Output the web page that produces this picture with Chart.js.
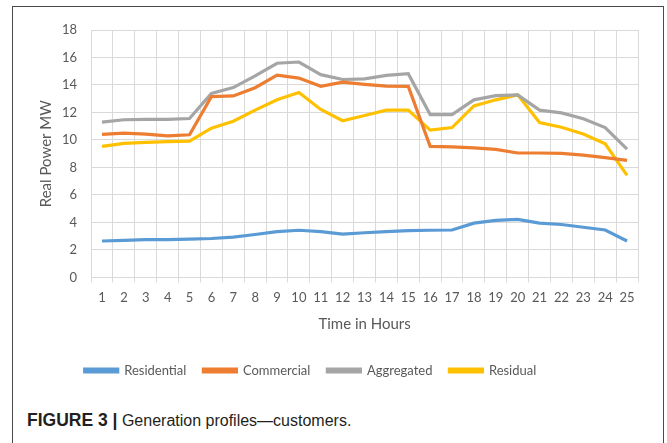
<!DOCTYPE html>
<html>
<head>
<meta charset="utf-8">
<script src="https://cdn.jsdelivr.net/npm/chart.js@4.4.1/dist/chart.umd.min.js"></script>
<style>
  html, body { margin: 0; padding: 0; background: #ffffff; }
  body { width: 667px; height: 443px; position: relative; overflow: hidden; }
  #frame { position: absolute; left: 12px; top: 6px; width: 652px; height: 460px;
           border: 1.5px solid #4a4a4a; box-sizing: border-box; }
  #wrap { position: absolute; left: 0; top: 0; width: 667px; height: 395px; }
  #caption { position: absolute; left: 27px; top: 410px; font-family: "Liberation Sans", Arial, sans-serif;
             font-size: 16px; color: #231f20; white-space: nowrap; }
  #caption b { font-size: 17.5px; }
</style>
</head>
<body>
<div id="frame"></div>
<div id="wrap"><canvas id="c"></canvas></div>
<div id="caption"><b>FIGURE 3 |</b> Generation profiles—customers.</div>
<script>
const hours = ["1","2","3","4","5","6","7","8","9","10","11","12","13","14","15","16","17","18","19","20","21","22","23","24","25"];
const residential = [2.65, 2.7, 2.75, 2.75, 2.78, 2.83, 2.93, 3.12, 3.33, 3.43, 3.33, 3.15, 3.25, 3.33, 3.4, 3.43, 3.45, 3.95, 4.15, 4.22, 3.95, 3.85, 3.65, 3.45, 2.65];
const commercial  = [10.4, 10.5, 10.43, 10.3, 10.38, 13.15, 13.2, 13.8, 14.72, 14.5, 13.9, 14.2, 14.05, 13.92, 13.9, 9.53, 9.5, 9.42, 9.32, 9.05, 9.05, 9.02, 8.9, 8.72, 8.52];
const aggregated  = [11.3, 11.47, 11.5, 11.5, 11.56, 13.38, 13.81, 14.66, 15.58, 15.67, 14.75, 14.4, 14.45, 14.7, 14.82, 11.85, 11.85, 12.92, 13.22, 13.28, 12.17, 11.97, 11.55, 10.9, 9.34];
const residual    = [9.53, 9.75, 9.82, 9.88, 9.92, 10.86, 11.36, 12.17, 12.92, 13.45, 12.22, 11.4, 11.78, 12.17, 12.17, 10.72, 10.9, 12.48, 12.92, 13.28, 11.27, 10.92, 10.43, 9.72, 7.42];
const seriesNames = ["Residential", "Commercial", "Aggregated", "Residual"];
const seriesColors = ["#5B9BD5", "#ED7D31", "#A5A5A5", "#FFC000"];
const yTicks = { min: 0, max: 18, step: 2 };

const seriesData = [residential, commercial, aggregated, residual];
const font = "Lato, 'Open Sans', sans-serif";
const textColor = "#595959";

// shift the legend a little to the left, like the original
const legendShift = {
  id: "legendShift",
  afterLayout(chart) {
    if (chart.legend) { chart.legend.left -= 25; chart.legend.right -= 25; }
  }
};

new Chart(document.getElementById("c"), {
  type: "line",
  data: {
    labels: hours,
    datasets: seriesData.map((d, i) => ({
      label: seriesNames[i],
      data: d,
      borderColor: seriesColors[i],
      backgroundColor: seriesColors[i],
      borderWidth: 3.2,
      pointRadius: 0,
      tension: 0,
      fill: false
    }))
  },
  plugins: [legendShift],
  options: {
    responsive: true,
    maintainAspectRatio: false,
    animation: false,
    layout: { padding: { left: 33, right: 29, top: 30, bottom: 8 } },
    plugins: {
      legend: {
        position: "bottom",
        labels: {
          boxWidth: 33, boxHeight: 3, padding: 17,
          color: textColor, font: { family: font, size: 13 }
        }
      },
      tooltip: { enabled: false }
    },
    scales: {
      x: {
        offset: true,
        grid: { offset: true, color: "#d9d9d9", lineWidth: 1, tickLength: 5, drawTicks: true },
        border: { color: "#d9d9d9" },
        ticks: { color: textColor, font: { family: font, size: 13 }, maxRotation: 0, autoSkip: false, padding: 8 },
        title: { display: true, text: "Time in Hours", color: textColor, font: { family: font, size: 15 }, padding: { top: 1, bottom: 14 } }
      },
      y: {
        min: yTicks.min, max: yTicks.max,
        grid: { color: "#d9d9d9", lineWidth: 1, drawTicks: false },
        border: { color: "#d9d9d9" },
        ticks: { stepSize: yTicks.step, color: textColor, font: { family: font, size: 13 }, padding: 14 },
        title: { display: true, text: "Real Power MW", color: textColor, font: { family: font, size: 15 }, padding: { top: 4, bottom: -7 } }
      }
    }
  }
});
</script>
</body>
</html>
